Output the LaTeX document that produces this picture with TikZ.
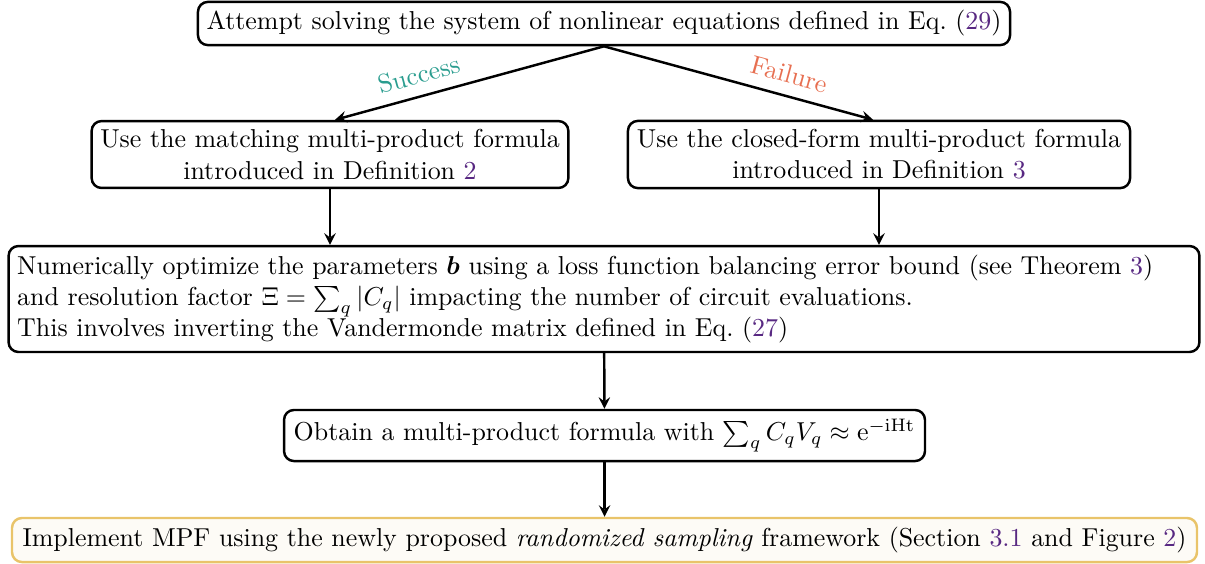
\documentclass[tikz,border=0pt]{standalone}
\usepackage{amsmath}
\usepackage{amssymb}
\usepackage{bm}
\usepackage{xcolor}
\usetikzlibrary{positioning, arrows}
\tikzset{>=stealth}
\definecolor{linkcol}{RGB}{88,40,130}
\definecolor{okcol}{RGB}{42,157,143}
\definecolor{failcol}{RGB}{231,111,81}
\definecolor{implcol}{RGB}{233,196,106}
\definecolor{implfill}{RGB}{253,251,246}
\newcommand{\lnk}[1]{\textcolor{linkcol}{#1}}
\tikzset{stepbox/.style={draw, line width=0.95pt, rounded corners=3.8pt, align=center, fill=white}}
\tikzset{implbox/.style={stepbox, draw=implcol, fill=implfill}}

\begin{document}
\begin{tikzpicture}[x=0.386pt, y=-0.386pt]
		\useasboundingbox (0,0) rectangle (1205,563);
		\begin{scope}[every node/.append style={font=\normalsize}]
			\node[stepbox, minimum width=313.4pt, minimum height=15.8pt] (attempt) at (604, 23.5) {Attempt solving the system of nonlinear equations defined in Eq.~(\lnk{29})};
			\node[stepbox, minimum width=183.7pt, minimum height=25.1pt] (match) at (330, 154.5) {Use the matching multi-product formula\\introduced in Definition~\lnk{2}};
			\node[stepbox, minimum width=193.8pt, minimum height=25.1pt] (closed) at (879, 154.5) {Use the closed-form multi-product formula\\introduced in Definition~\lnk{3}};
			\node[stepbox, align=left, text width=453pt, minimum height=40.9pt] (optim) at (604, 299) {Numerically optimize the parameters $\bm{b}$ using a loss function balancing error bound (see Theorem~\lnk{3})\\
				and resolution factor $\Xi = \sum_q |C_q|$ impacting the number of circuit evaluations.\\
				This involves inverting the Vandermonde matrix defined in Eq.~(\lnk{27})};
			\node[stepbox, minimum width=247.4pt, minimum height=19.7pt] (obtain) at (604.5, 435.5) {Obtain a multi-product formula with $\sum_q C_q V_q \approx \mathrm{e}^{-\mathrm{iHt}}$};
			\node[implbox, minimum width=457.4pt, minimum height=17pt] (impl) at (604.5, 540) {Implement MPF using the newly proposed \emph{randomized sampling} framework (Section~\lnk{3.1} and Figure~\lnk{2})};
		\end{scope}

		\draw[->, line width=0.95pt] (attempt.south) -- (match.north -| 335,0) node[midway, sloped, above, text=okcol, xshift=-18pt, yshift=1pt]{Success};
		\draw[->, line width=0.95pt] (attempt.south) -- (closed.north -| 873,0) node[midway, sloped, above, text=failcol, xshift=18pt, yshift=1pt]{Failure};
		\draw[->, line width=0.95pt] (match) -- (optim.north -| match);
		\draw[->, line width=0.95pt] (closed) -- (optim.north -| closed);
		\draw[->, line width=0.95pt] (optim) -- (obtain);
		\draw[->, line width=0.95pt] (obtain) -- (impl);
	\end{tikzpicture}
\end{document}
